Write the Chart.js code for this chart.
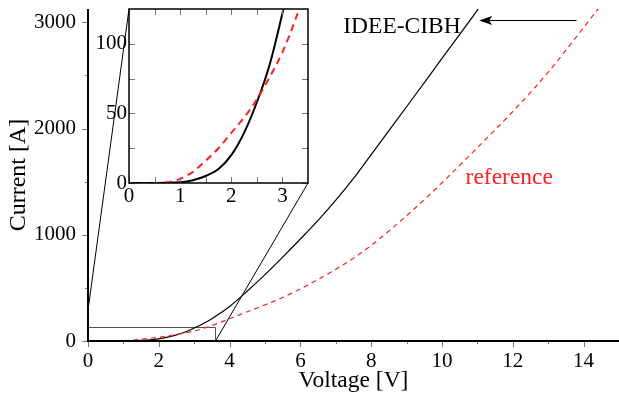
<!DOCTYPE html>
<html>
<head>
<meta charset="utf-8">
<script src="https://cdn.jsdelivr.net/npm/chart.js@4.4.0/dist/chart.umd.min.js"></script>
<style>
  body { margin: 0; background: #fff; }
  #wrap { position: relative; width: 619px; height: 397px; }
  #mainChart { position: absolute; left: 0; top: 0; }
  #insetChart { position: absolute; left: 90px; top: 0; }
</style>
</head>
<body>
<div id="wrap">
  <canvas id="mainChart" width="619" height="397"></canvas>
  <canvas id="insetChart" width="225" height="212"></canvas>
</div>
<script>
// I-V curves
const ideeVoltage = [0, 0.5, 0.75, 1, 1.25, 1.5, 1.75, 2, 2.25, 2.5, 2.75, 3, 3.25, 3.5, 3.75, 4, 4.5, 5, 5.5, 6, 6.5, 7, 7.5, 8, 8.5, 9, 10, 11, 11.2];
const ideeCurrent = [0, 0, 0.1, 0.5, 2, 5, 10, 20, 36, 58, 85, 122, 163, 210, 265, 325, 470, 625, 790, 960, 1135, 1325, 1530, 1755, 1980, 2205, 2660, 3115, 3210];

const refVoltage = [0, 0.5, 0.75, 1, 1.25, 1.5, 1.75, 2, 2.25, 2.5, 2.75, 3, 3.25, 3.5, 3.75, 4, 4.5, 5, 5.5, 6, 6.5, 7, 7.5, 8, 8.5, 9, 9.5, 10, 11, 12, 13, 14, 14.5];
const refCurrent = [0, 0, 0.5, 3, 8, 16, 25, 36, 47, 60, 76, 94, 117, 145, 177, 210, 275, 340, 410, 490, 580, 675, 780, 900, 1035, 1180, 1330, 1490, 1820, 2160, 2530, 2950, 3165];

// axis ranges and ticks
const mainXRange = [0, 15];
const mainXTicks = [0, 1, 2, 3, 4, 5, 6, 7, 8, 9, 10, 11, 12, 13, 14, 15];
const mainXLabels = [0, 2, 4, 6, 8, 10, 12, 14];
const mainYRange = [0, 3125];
const mainYTicks = [0, 500, 1000, 1500, 2000, 2500, 3000];
const mainYLabels = [0, 1000, 2000, 3000];

const insetXRange = [0, 3.5];
const insetXTicks = [0, 0.5, 1, 1.5, 2, 2.5, 3];
const insetXLabels = [0, 1, 2, 3];
const insetYRange = [0, 125];
const insetYTicks = [0, 25, 50, 75, 100];
const insetYLabels = [0, 50, 100];

// zoomed region marked on the main plot
const zoomBox = { x: 3.6, y: 130 };
const connectorStart = [[0, 290], [3.6, 0]];

// text annotations (baseline positions)
const ideeLabel = { text: 'IDEE-CIBH', x: 8.87, y: 2897 };
const refLabel = { text: 'reference', x: 11.9, y: 1477 };
const arrow = { from: 13.8, to: 11.05, y: 3020 };

const serif = "'Liberation Serif', 'Times New Roman', serif";
Chart.defaults.font.family = serif;
Chart.defaults.color = '#000';
Chart.defaults.animation = false;

function toPoints(xs, ys) {
    return xs.map((x, i) => ({ x: x, y: ys[i] }));
}

// draw tick marks along one side of the chart area
function drawTicks(ctx, scale, labels, edge, dir, major, minor, horizontal) {
    ctx.save();
    ctx.strokeStyle = '#777';
    ctx.lineWidth = 1;
    scale.ticks.forEach(t => {
        const v = t.value;
        const len = labels.includes(v) ? major : minor;
        const p = Math.round(scale.getPixelForValue(v)) + 0.5;
        ctx.beginPath();
        if (horizontal) {
            ctx.moveTo(p, edge);
            ctx.lineTo(p, edge + dir * len);
        } else {
            ctx.moveTo(edge, p);
            ctx.lineTo(edge + dir * len, p);
        }
        ctx.stroke();
    });
    ctx.restore();
}

function axis(range, ticks, labels, size, padding, fontSize, extra) {
    const horizontal = extra.horizontal;
    return Object.assign({
        type: 'linear',
        min: range[0],
        max: range[1],
        bounds: 'data',
        grid: { display: false, drawTicks: false },
        border: { display: false },
        ticks: {
            autoSkip: false, maxRotation: 0, padding: padding,
            font: { size: fontSize },
            callback: v => labels.includes(v) ? v : ''
        },
        afterBuildTicks: scale => { scale.ticks = ticks.map(v => ({ value: v })); },
        afterFit: scale => {
            if (horizontal) {
                scale.height = size;
                scale.paddingLeft = 0;
                scale.paddingRight = 0;
            } else {
                scale.width = size;
                scale.paddingTop = 0;
                scale.paddingBottom = 0;
            }
        }
    }, extra.options || {});
}

// ---------- inset ----------
const insetFrame = {
    id: 'insetFrame',
    beforeDatasetsDraw(chart) {
        const a = chart.chartArea;
        const ctx = chart.ctx;
        ctx.save();
        ctx.fillStyle = '#fff';
        ctx.fillRect(a.left, a.top, a.right - a.left, a.bottom - a.top);
        ctx.restore();
    },
    afterDraw(chart) {
        const a = chart.chartArea;
        const ctx = chart.ctx;
        const sx = chart.scales.x, sy = chart.scales.y;
        drawTicks(ctx, sx, insetXLabels, a.bottom, -1, 6, 6, true);
        drawTicks(ctx, sx, insetXLabels, a.top, 1, 6, 6, true);
        drawTicks(ctx, sy, insetYLabels, a.left, 1, 6, 6, false);
        drawTicks(ctx, sy, insetYLabels, a.right, -1, 6, 6, false);
        ctx.save();
        ctx.strokeStyle = '#000';
        ctx.lineWidth = 1.5;
        ctx.strokeRect(a.left, a.top, a.right - a.left, a.bottom - a.top);
        ctx.restore();
    }
};

const insetChart = new Chart(document.getElementById('insetChart'), {
    type: 'line',
    data: {
        datasets: [{
            data: toPoints(refVoltage, refCurrent),
            borderColor: '#ff2020',
            borderWidth: 2,
            borderDash: [7, 5],
            pointRadius: 0,
            cubicInterpolationMode: 'monotone'
        }, {
            data: toPoints(ideeVoltage, ideeCurrent),
            borderColor: '#000',
            borderWidth: 2,
            pointRadius: 0,
            cubicInterpolationMode: 'monotone'
        }]
    },
    options: {
        responsive: false,
        layout: { padding: { top: 9, right: 7, left: 0, bottom: 0 } },
        plugins: { legend: { display: false }, tooltip: { enabled: false } },
        scales: {
            x: axis(insetXRange, insetXTicks, insetXLabels, 29, 1, 21, { horizontal: true }),
            y: axis(insetYRange, insetYTicks, insetYLabels, 39, 2, 21, { horizontal: false })
        }
    },
    plugins: [insetFrame]
});

// ---------- main ----------
const insetOffset = { left: 90, top: 0 };

const mainFrame = {
    id: 'mainFrame',
    beforeDatasetsDraw(chart) {
        const ctx = chart.ctx;
        const sx = chart.scales.x, sy = chart.scales.y;
        const ia = insetChart.chartArea;

        // zoom box
        ctx.save();
        ctx.strokeStyle = '#555';
        ctx.lineWidth = 1;
        const bx = Math.round(sx.getPixelForValue(zoomBox.x)) + 0.5;
        const by = Math.round(sy.getPixelForValue(zoomBox.y)) + 0.5;
        ctx.beginPath();
        ctx.moveTo(sx.getPixelForValue(0), by);
        ctx.lineTo(bx, by);
        ctx.lineTo(bx, sy.getPixelForValue(0));
        ctx.stroke();

        // connectors to the inset corners
        ctx.strokeStyle = '#000';
        const ends = [
            [insetOffset.left + ia.left, insetOffset.top + ia.top],
            [insetOffset.left + ia.right, insetOffset.top + ia.bottom]
        ];
        connectorStart.forEach((s, i) => {
            ctx.beginPath();
            ctx.moveTo(sx.getPixelForValue(s[0]), sy.getPixelForValue(s[1]));
            ctx.lineTo(ends[i][0], ends[i][1]);
            ctx.stroke();
        });
        ctx.restore();
    },
    afterDraw(chart) {
        const a = chart.chartArea;
        const ctx = chart.ctx;
        const sx = chart.scales.x, sy = chart.scales.y;
        drawTicks(ctx, sx, mainXLabels, a.bottom, 1, 6, 3, true);
        drawTicks(ctx, sy, mainYLabels, a.left, -1, 6, 3, false);

        ctx.save();
        ctx.strokeStyle = '#000';
        ctx.lineWidth = 2;
        ctx.beginPath();
        ctx.moveTo(a.left, a.top);
        ctx.lineTo(a.left, a.bottom);
        ctx.lineTo(a.right, a.bottom);
        ctx.stroke();

        // labels
        ctx.font = '23.5px ' + serif;
        ctx.textAlign = 'center';
        ctx.textBaseline = 'alphabetic';
        ctx.fillStyle = '#000';
        ctx.fillText(ideeLabel.text, sx.getPixelForValue(ideeLabel.x), sy.getPixelForValue(ideeLabel.y));
        ctx.fillStyle = '#ff2020';
        ctx.fillText(refLabel.text, sx.getPixelForValue(refLabel.x), sy.getPixelForValue(refLabel.y));

        // arrow pointing at the IDEE-CIBH curve
        const ay = Math.round(sy.getPixelForValue(arrow.y)) + 0.5;
        const x0 = sx.getPixelForValue(arrow.from), x1 = sx.getPixelForValue(arrow.to);
        ctx.strokeStyle = '#000';
        ctx.lineWidth = 1.2;
        ctx.beginPath();
        ctx.moveTo(x0, ay);
        ctx.lineTo(x1 + 8, ay);
        ctx.stroke();
        ctx.fillStyle = '#000';
        ctx.beginPath();
        ctx.moveTo(x1, ay);
        ctx.lineTo(x1 + 13, ay - 4.5);
        ctx.lineTo(x1 + 10, ay);
        ctx.lineTo(x1 + 13, ay + 4.5);
        ctx.closePath();
        ctx.fill();
        ctx.restore();
    }
};

new Chart(document.getElementById('mainChart'), {
    type: 'line',
    data: {
        datasets: [{
            data: toPoints(refVoltage, refCurrent),
            borderColor: '#ff2020',
            borderWidth: 1.2,
            borderDash: [5, 4],
            pointRadius: 0,
            cubicInterpolationMode: 'monotone'
        }, {
            data: toPoints(ideeVoltage, ideeCurrent),
            borderColor: '#000',
            borderWidth: 1.2,
            pointRadius: 0,
            cubicInterpolationMode: 'monotone'
        }]
    },
    options: {
        responsive: false,
        layout: { padding: { top: 9, right: 0, left: 0, bottom: 0 } },
        plugins: { legend: { display: false }, tooltip: { enabled: false } },
        scales: {
            x: axis(mainXRange, mainXTicks, mainXLabels, 56, 8, 21, {
                horizontal: true,
                options: { title: { display: true, text: 'Voltage [V]', font: { size: 23.5 }, padding: { top: 0, bottom: 2 } } }
            }),
            y: axis(mainYRange, mainYTicks, mainYLabels, 88, 12, 21, {
                horizontal: false,
                options: { title: { display: true, text: 'Current [A]', font: { size: 24 }, padding: { top: 4, bottom: 0 } } }
            })
        }
    },
    plugins: [mainFrame]
});
</script>
</body>
</html>
